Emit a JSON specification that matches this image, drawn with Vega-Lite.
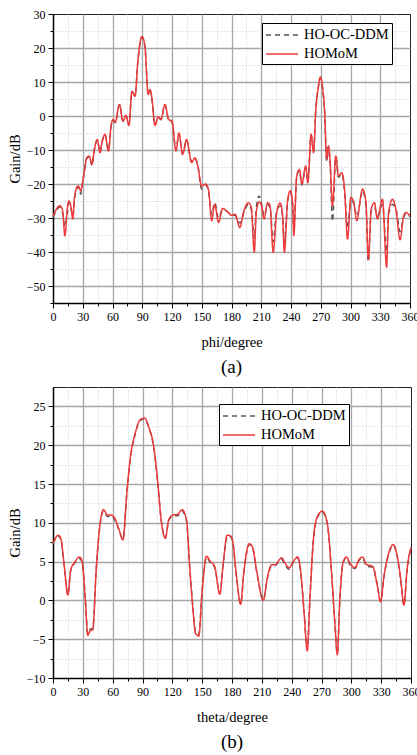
{
  "$schema": "https://vega.github.io/schema/vega-lite/v6.json",
  "padding": {"left": 6, "top": 7, "right": 5, "bottom": 5},
  "background": "white",
  "config": {
    "font": "Liberation Serif",
    "view": {"stroke": "#222222", "strokeWidth": 1},
    "axis": {
      "labelFont": "Liberation Serif",
      "labelFontSize": 12,
      "labelColor": "black",
      "titleFont": "Liberation Serif",
      "titleFontSize": 14.5,
      "titleFontWeight": "normal",
      "titleColor": "black",
      "domainColor": "black",
      "domainWidth": 1.5,
      "tickColor": "black",
      "tickWidth": 1,
      "labelPadding": 3
    },
    "legend": {"labelFont": "Liberation Serif", "titleFont": "Liberation Serif"},
    "title": {"font": "Liberation Serif", "fontSize": 19, "fontWeight": "normal", "color": "black"}
  },
  "datasets": {
    "phi": [
      {"deg": 0, "gain": -29.8, "method": "HO-OC-DDM"},
      {"deg": 7, "gain": -26.8, "method": "HO-OC-DDM"},
      {"deg": 9.7, "gain": -28.5, "method": "HO-OC-DDM"},
      {"deg": 12, "gain": -32.5, "method": "HO-OC-DDM"},
      {"deg": 14.5, "gain": -28.5, "method": "HO-OC-DDM"},
      {"deg": 16, "gain": -25.5, "method": "HO-OC-DDM"},
      {"deg": 18, "gain": -27, "method": "HO-OC-DDM"},
      {"deg": 20, "gain": -29.5, "method": "HO-OC-DDM"},
      {"deg": 21.5, "gain": -25, "method": "HO-OC-DDM"},
      {"deg": 24, "gain": -21.5, "method": "HO-OC-DDM"},
      {"deg": 25.5, "gain": -20.8, "method": "HO-OC-DDM"},
      {"deg": 28, "gain": -23, "method": "HO-OC-DDM"},
      {"deg": 29.5, "gain": -20.5, "method": "HO-OC-DDM"},
      {"deg": 31.6, "gain": -16.5, "method": "HO-OC-DDM"},
      {"deg": 34, "gain": -12.5, "method": "HO-OC-DDM"},
      {"deg": 36.6, "gain": -12, "method": "HO-OC-DDM"},
      {"deg": 39.3, "gain": -14.5, "method": "HO-OC-DDM"},
      {"deg": 41.7, "gain": -10, "method": "HO-OC-DDM"},
      {"deg": 44.7, "gain": -7, "method": "HO-OC-DDM"},
      {"deg": 47.4, "gain": -10.6, "method": "HO-OC-DDM"},
      {"deg": 49.7, "gain": -7.4, "method": "HO-OC-DDM"},
      {"deg": 52.4, "gain": -5.5, "method": "HO-OC-DDM"},
      {"deg": 56, "gain": -10, "method": "HO-OC-DDM"},
      {"deg": 58.5, "gain": -3.2, "method": "HO-OC-DDM"},
      {"deg": 60.8, "gain": -1.2, "method": "HO-OC-DDM"},
      {"deg": 62.8, "gain": -2, "method": "HO-OC-DDM"},
      {"deg": 67, "gain": 3.3, "method": "HO-OC-DDM"},
      {"deg": 70.6, "gain": -1.6, "method": "HO-OC-DDM"},
      {"deg": 73.6, "gain": 0.1, "method": "HO-OC-DDM"},
      {"deg": 76.6, "gain": -2.6, "method": "HO-OC-DDM"},
      {"deg": 79.6, "gain": 7.2, "method": "HO-OC-DDM"},
      {"deg": 82.7, "gain": 5.9, "method": "HO-OC-DDM"},
      {"deg": 85.7, "gain": 16.5, "method": "HO-OC-DDM"},
      {"deg": 89.7, "gain": 23.2, "method": "HO-OC-DDM"},
      {"deg": 92.7, "gain": 20.3, "method": "HO-OC-DDM"},
      {"deg": 96, "gain": 6.5, "method": "HO-OC-DDM"},
      {"deg": 97.8, "gain": 7.6, "method": "HO-OC-DDM"},
      {"deg": 99.5, "gain": 5.6, "method": "HO-OC-DDM"},
      {"deg": 102.8, "gain": -2.6, "method": "HO-OC-DDM"},
      {"deg": 106, "gain": -0.4, "method": "HO-OC-DDM"},
      {"deg": 108.8, "gain": -1.1, "method": "HO-OC-DDM"},
      {"deg": 112.9, "gain": 3.2, "method": "HO-OC-DDM"},
      {"deg": 116.6, "gain": -1.2, "method": "HO-OC-DDM"},
      {"deg": 120, "gain": -1.8, "method": "HO-OC-DDM"},
      {"deg": 124, "gain": -10, "method": "HO-OC-DDM"},
      {"deg": 127, "gain": -5.2, "method": "HO-OC-DDM"},
      {"deg": 130.7, "gain": -11, "method": "HO-OC-DDM"},
      {"deg": 134.7, "gain": -7.1, "method": "HO-OC-DDM"},
      {"deg": 139.8, "gain": -13.4, "method": "HO-OC-DDM"},
      {"deg": 143, "gain": -12.5, "method": "HO-OC-DDM"},
      {"deg": 146, "gain": -14.5, "method": "HO-OC-DDM"},
      {"deg": 149.9, "gain": -21.5, "method": "HO-OC-DDM"},
      {"deg": 154, "gain": -20.3, "method": "HO-OC-DDM"},
      {"deg": 157, "gain": -22.5, "method": "HO-OC-DDM"},
      {"deg": 160, "gain": -29, "method": "HO-OC-DDM"},
      {"deg": 163, "gain": -25.5, "method": "HO-OC-DDM"},
      {"deg": 167, "gain": -30, "method": "HO-OC-DDM"},
      {"deg": 171, "gain": -27.5, "method": "HO-OC-DDM"},
      {"deg": 175, "gain": -28, "method": "HO-OC-DDM"},
      {"deg": 180, "gain": -29, "method": "HO-OC-DDM"},
      {"deg": 183.5, "gain": -29.2, "method": "HO-OC-DDM"},
      {"deg": 188.5, "gain": -31.5, "method": "HO-OC-DDM"},
      {"deg": 192, "gain": -28.8, "method": "HO-OC-DDM"},
      {"deg": 197, "gain": -26, "method": "HO-OC-DDM"},
      {"deg": 200, "gain": -27.5, "method": "HO-OC-DDM"},
      {"deg": 203, "gain": -36, "method": "HO-OC-DDM"},
      {"deg": 205, "gain": -27, "method": "HO-OC-DDM"},
      {"deg": 207.7, "gain": -23.5, "method": "HO-OC-DDM"},
      {"deg": 210.4, "gain": -26, "method": "HO-OC-DDM"},
      {"deg": 212.8, "gain": -29.5, "method": "HO-OC-DDM"},
      {"deg": 216.5, "gain": -26, "method": "HO-OC-DDM"},
      {"deg": 218.9, "gain": -27, "method": "HO-OC-DDM"},
      {"deg": 222, "gain": -37, "method": "HO-OC-DDM"},
      {"deg": 225.6, "gain": -28, "method": "HO-OC-DDM"},
      {"deg": 229, "gain": -26.5, "method": "HO-OC-DDM"},
      {"deg": 231.3, "gain": -29, "method": "HO-OC-DDM"},
      {"deg": 233.3, "gain": -37, "method": "HO-OC-DDM"},
      {"deg": 236.7, "gain": -25, "method": "HO-OC-DDM"},
      {"deg": 239.4, "gain": -22.5, "method": "HO-OC-DDM"},
      {"deg": 241.8, "gain": -26.8, "method": "HO-OC-DDM"},
      {"deg": 242.8, "gain": -33, "method": "HO-OC-DDM"},
      {"deg": 245.8, "gain": -18, "method": "HO-OC-DDM"},
      {"deg": 248.5, "gain": -16, "method": "HO-OC-DDM"},
      {"deg": 250.9, "gain": -20.3, "method": "HO-OC-DDM"},
      {"deg": 254.9, "gain": -15, "method": "HO-OC-DDM"},
      {"deg": 257, "gain": -19.3, "method": "HO-OC-DDM"},
      {"deg": 260.3, "gain": -5.6, "method": "HO-OC-DDM"},
      {"deg": 262.7, "gain": -10.5, "method": "HO-OC-DDM"},
      {"deg": 265, "gain": 1.7, "method": "HO-OC-DDM"},
      {"deg": 267.5, "gain": 8.3, "method": "HO-OC-DDM"},
      {"deg": 269.7, "gain": 11.3, "method": "HO-OC-DDM"},
      {"deg": 271.8, "gain": 8.3, "method": "HO-OC-DDM"},
      {"deg": 273.8, "gain": 1.7, "method": "HO-OC-DDM"},
      {"deg": 276, "gain": -13.5, "method": "HO-OC-DDM"},
      {"deg": 277.8, "gain": -9, "method": "HO-OC-DDM"},
      {"deg": 279.5, "gain": -14.5, "method": "HO-OC-DDM"},
      {"deg": 281.8, "gain": -31, "method": "HO-OC-DDM"},
      {"deg": 285.2, "gain": -12, "method": "HO-OC-DDM"},
      {"deg": 287.9, "gain": -18, "method": "HO-OC-DDM"},
      {"deg": 291.2, "gain": -17, "method": "HO-OC-DDM"},
      {"deg": 294, "gain": -22, "method": "HO-OC-DDM"},
      {"deg": 297, "gain": -33, "method": "HO-OC-DDM"},
      {"deg": 300.3, "gain": -25, "method": "HO-OC-DDM"},
      {"deg": 303, "gain": -25.5, "method": "HO-OC-DDM"},
      {"deg": 306.4, "gain": -29.5, "method": "HO-OC-DDM"},
      {"deg": 310.4, "gain": -24, "method": "HO-OC-DDM"},
      {"deg": 312, "gain": -22, "method": "HO-OC-DDM"},
      {"deg": 315.5, "gain": -26, "method": "HO-OC-DDM"},
      {"deg": 318, "gain": -43, "method": "HO-OC-DDM"},
      {"deg": 320.9, "gain": -28, "method": "HO-OC-DDM"},
      {"deg": 324.2, "gain": -27, "method": "HO-OC-DDM"},
      {"deg": 327, "gain": -29.5, "method": "HO-OC-DDM"},
      {"deg": 332.3, "gain": -26, "method": "HO-OC-DDM"},
      {"deg": 336.4, "gain": -40, "method": "HO-OC-DDM"},
      {"deg": 338.4, "gain": -29, "method": "HO-OC-DDM"},
      {"deg": 342.4, "gain": -26, "method": "HO-OC-DDM"},
      {"deg": 346, "gain": -27.5, "method": "HO-OC-DDM"},
      {"deg": 350, "gain": -34, "method": "HO-OC-DDM"},
      {"deg": 353.6, "gain": -29.8, "method": "HO-OC-DDM"},
      {"deg": 356, "gain": -28.6, "method": "HO-OC-DDM"},
      {"deg": 360, "gain": -29.6, "method": "HO-OC-DDM"},

      {"deg": 0, "gain": -29.5, "method": "HOMoM"},
      {"deg": 7, "gain": -26.4, "method": "HOMoM"},
      {"deg": 9.7, "gain": -27.9, "method": "HOMoM"},
      {"deg": 12, "gain": -35.2, "method": "HOMoM"},
      {"deg": 14.5, "gain": -27, "method": "HOMoM"},
      {"deg": 16, "gain": -25, "method": "HOMoM"},
      {"deg": 18, "gain": -26.5, "method": "HOMoM"},
      {"deg": 20, "gain": -30.3, "method": "HOMoM"},
      {"deg": 21.5, "gain": -24.5, "method": "HOMoM"},
      {"deg": 24, "gain": -21, "method": "HOMoM"},
      {"deg": 25.5, "gain": -20.6, "method": "HOMoM"},
      {"deg": 28, "gain": -22, "method": "HOMoM"},
      {"deg": 29.5, "gain": -20, "method": "HOMoM"},
      {"deg": 31.6, "gain": -16.2, "method": "HOMoM"},
      {"deg": 34, "gain": -12.3, "method": "HOMoM"},
      {"deg": 36.6, "gain": -11.8, "method": "HOMoM"},
      {"deg": 39.3, "gain": -14.2, "method": "HOMoM"},
      {"deg": 41.7, "gain": -9.8, "method": "HOMoM"},
      {"deg": 44.7, "gain": -6.9, "method": "HOMoM"},
      {"deg": 47.4, "gain": -10.8, "method": "HOMoM"},
      {"deg": 49.7, "gain": -7.3, "method": "HOMoM"},
      {"deg": 52.4, "gain": -5.4, "method": "HOMoM"},
      {"deg": 56, "gain": -10.3, "method": "HOMoM"},
      {"deg": 58.5, "gain": -3, "method": "HOMoM"},
      {"deg": 60.8, "gain": -1, "method": "HOMoM"},
      {"deg": 62.8, "gain": -1.8, "method": "HOMoM"},
      {"deg": 67, "gain": 3.4, "method": "HOMoM"},
      {"deg": 70.6, "gain": -1.5, "method": "HOMoM"},
      {"deg": 73.6, "gain": 0.2, "method": "HOMoM"},
      {"deg": 76.6, "gain": -2.8, "method": "HOMoM"},
      {"deg": 79.6, "gain": 7.3, "method": "HOMoM"},
      {"deg": 82.7, "gain": 5.8, "method": "HOMoM"},
      {"deg": 85.7, "gain": 16.6, "method": "HOMoM"},
      {"deg": 89.7, "gain": 23.4, "method": "HOMoM"},
      {"deg": 92.7, "gain": 20.5, "method": "HOMoM"},
      {"deg": 96, "gain": 6.3, "method": "HOMoM"},
      {"deg": 97.8, "gain": 7.8, "method": "HOMoM"},
      {"deg": 99.5, "gain": 5.8, "method": "HOMoM"},
      {"deg": 102.8, "gain": -2.8, "method": "HOMoM"},
      {"deg": 106, "gain": -0.2, "method": "HOMoM"},
      {"deg": 108.8, "gain": -1, "method": "HOMoM"},
      {"deg": 112.9, "gain": 3.4, "method": "HOMoM"},
      {"deg": 116.6, "gain": -1, "method": "HOMoM"},
      {"deg": 120, "gain": -1.5, "method": "HOMoM"},
      {"deg": 124, "gain": -10.3, "method": "HOMoM"},
      {"deg": 127, "gain": -5, "method": "HOMoM"},
      {"deg": 130.7, "gain": -11.3, "method": "HOMoM"},
      {"deg": 134.7, "gain": -6.9, "method": "HOMoM"},
      {"deg": 139.8, "gain": -13.7, "method": "HOMoM"},
      {"deg": 143, "gain": -12.3, "method": "HOMoM"},
      {"deg": 146, "gain": -14.7, "method": "HOMoM"},
      {"deg": 149.9, "gain": -20.6, "method": "HOMoM"},
      {"deg": 154, "gain": -20, "method": "HOMoM"},
      {"deg": 157, "gain": -22, "method": "HOMoM"},
      {"deg": 160, "gain": -30.8, "method": "HOMoM"},
      {"deg": 163, "gain": -26, "method": "HOMoM"},
      {"deg": 167, "gain": -31.3, "method": "HOMoM"},
      {"deg": 171, "gain": -27.2, "method": "HOMoM"},
      {"deg": 175, "gain": -27.9, "method": "HOMoM"},
      {"deg": 180, "gain": -29.2, "method": "HOMoM"},
      {"deg": 183.5, "gain": -28.9, "method": "HOMoM"},
      {"deg": 188.5, "gain": -32.8, "method": "HOMoM"},
      {"deg": 192, "gain": -28.4, "method": "HOMoM"},
      {"deg": 197, "gain": -25.5, "method": "HOMoM"},
      {"deg": 200, "gain": -27, "method": "HOMoM"},
      {"deg": 203, "gain": -40.1, "method": "HOMoM"},
      {"deg": 205, "gain": -28.4, "method": "HOMoM"},
      {"deg": 207.7, "gain": -25.3, "method": "HOMoM"},
      {"deg": 210.4, "gain": -26.4, "method": "HOMoM"},
      {"deg": 212.8, "gain": -30.3, "method": "HOMoM"},
      {"deg": 216.5, "gain": -25.5, "method": "HOMoM"},
      {"deg": 218.9, "gain": -26.4, "method": "HOMoM"},
      {"deg": 222, "gain": -40.1, "method": "HOMoM"},
      {"deg": 225.6, "gain": -28.4, "method": "HOMoM"},
      {"deg": 229, "gain": -25.6, "method": "HOMoM"},
      {"deg": 231.3, "gain": -28.4, "method": "HOMoM"},
      {"deg": 233.3, "gain": -40.1, "method": "HOMoM"},
      {"deg": 236.7, "gain": -24.5, "method": "HOMoM"},
      {"deg": 239.4, "gain": -22, "method": "HOMoM"},
      {"deg": 241.8, "gain": -26.4, "method": "HOMoM"},
      {"deg": 242.8, "gain": -35.2, "method": "HOMoM"},
      {"deg": 245.8, "gain": -17.6, "method": "HOMoM"},
      {"deg": 248.5, "gain": -15.7, "method": "HOMoM"},
      {"deg": 250.9, "gain": -20, "method": "HOMoM"},
      {"deg": 254.9, "gain": -14.7, "method": "HOMoM"},
      {"deg": 257, "gain": -19.6, "method": "HOMoM"},
      {"deg": 260.3, "gain": -5.4, "method": "HOMoM"},
      {"deg": 262.7, "gain": -10.8, "method": "HOMoM"},
      {"deg": 265, "gain": 1.9, "method": "HOMoM"},
      {"deg": 267.5, "gain": 8.5, "method": "HOMoM"},
      {"deg": 269.7, "gain": 11.5, "method": "HOMoM"},
      {"deg": 271.8, "gain": 8.5, "method": "HOMoM"},
      {"deg": 273.8, "gain": 1.9, "method": "HOMoM"},
      {"deg": 276, "gain": -12.7, "method": "HOMoM"},
      {"deg": 277.8, "gain": -8.8, "method": "HOMoM"},
      {"deg": 279.5, "gain": -13.7, "method": "HOMoM"},
      {"deg": 281.8, "gain": -26.4, "method": "HOMoM"},
      {"deg": 285.2, "gain": -11.8, "method": "HOMoM"},
      {"deg": 287.9, "gain": -17.6, "method": "HOMoM"},
      {"deg": 291.2, "gain": -16.7, "method": "HOMoM"},
      {"deg": 294, "gain": -21.5, "method": "HOMoM"},
      {"deg": 297, "gain": -36.2, "method": "HOMoM"},
      {"deg": 300.3, "gain": -24, "method": "HOMoM"},
      {"deg": 303, "gain": -25, "method": "HOMoM"},
      {"deg": 306.4, "gain": -30.8, "method": "HOMoM"},
      {"deg": 310.4, "gain": -23.5, "method": "HOMoM"},
      {"deg": 312, "gain": -21.5, "method": "HOMoM"},
      {"deg": 315.5, "gain": -25, "method": "HOMoM"},
      {"deg": 318, "gain": -42.1, "method": "HOMoM"},
      {"deg": 320.9, "gain": -27.4, "method": "HOMoM"},
      {"deg": 324.2, "gain": -25.5, "method": "HOMoM"},
      {"deg": 327, "gain": -30.3, "method": "HOMoM"},
      {"deg": 332.3, "gain": -24.5, "method": "HOMoM"},
      {"deg": 336.4, "gain": -44.5, "method": "HOMoM"},
      {"deg": 338.4, "gain": -28.4, "method": "HOMoM"},
      {"deg": 342.4, "gain": -24.5, "method": "HOMoM"},
      {"deg": 346, "gain": -27.9, "method": "HOMoM"},
      {"deg": 350, "gain": -36.4, "method": "HOMoM"},
      {"deg": 353.6, "gain": -29.4, "method": "HOMoM"},
      {"deg": 356, "gain": -28.4, "method": "HOMoM"},
      {"deg": 360, "gain": -29.4, "method": "HOMoM"}
    ],
    "theta": [
      {"deg": 0, "gain": 7.3, "method": "HO-OC-DDM"},
      {"deg": 5.5, "gain": 8.3, "method": "HO-OC-DDM"},
      {"deg": 8.2, "gain": 7.7, "method": "HO-OC-DDM"},
      {"deg": 11.2, "gain": 4.5, "method": "HO-OC-DDM"},
      {"deg": 14.9, "gain": 0.8, "method": "HO-OC-DDM"},
      {"deg": 17.9, "gain": 3.9, "method": "HO-OC-DDM"},
      {"deg": 21.3, "gain": 4.7, "method": "HO-OC-DDM"},
      {"deg": 26.6, "gain": 5.4, "method": "HO-OC-DDM"},
      {"deg": 29.3, "gain": 4.9, "method": "HO-OC-DDM"},
      {"deg": 32.4, "gain": 0.4, "method": "HO-OC-DDM"},
      {"deg": 35, "gain": -4.3, "method": "HO-OC-DDM"},
      {"deg": 37.4, "gain": -3.7, "method": "HO-OC-DDM"},
      {"deg": 40, "gain": -3.6, "method": "HO-OC-DDM"},
      {"deg": 43.4, "gain": 3.9, "method": "HO-OC-DDM"},
      {"deg": 46.8, "gain": 9.2, "method": "HO-OC-DDM"},
      {"deg": 50.8, "gain": 11.5, "method": "HO-OC-DDM"},
      {"deg": 54.9, "gain": 10.8, "method": "HO-OC-DDM"},
      {"deg": 58, "gain": 10.9, "method": "HO-OC-DDM"},
      {"deg": 61, "gain": 10.6, "method": "HO-OC-DDM"},
      {"deg": 66, "gain": 9.2, "method": "HO-OC-DDM"},
      {"deg": 70.3, "gain": 7.9, "method": "HO-OC-DDM"},
      {"deg": 74.4, "gain": 14, "method": "HO-OC-DDM"},
      {"deg": 77.7, "gain": 18.2, "method": "HO-OC-DDM"},
      {"deg": 82.8, "gain": 21.5, "method": "HO-OC-DDM"},
      {"deg": 87.8, "gain": 23.2, "method": "HO-OC-DDM"},
      {"deg": 92.2, "gain": 23.4, "method": "HO-OC-DDM"},
      {"deg": 96.2, "gain": 22.3, "method": "HO-OC-DDM"},
      {"deg": 101.3, "gain": 19.7, "method": "HO-OC-DDM"},
      {"deg": 105.3, "gain": 15.2, "method": "HO-OC-DDM"},
      {"deg": 108.7, "gain": 10.5, "method": "HO-OC-DDM"},
      {"deg": 113, "gain": 8.1, "method": "HO-OC-DDM"},
      {"deg": 116.4, "gain": 10.3, "method": "HO-OC-DDM"},
      {"deg": 120.7, "gain": 10.9, "method": "HO-OC-DDM"},
      {"deg": 125.5, "gain": 10.9, "method": "HO-OC-DDM"},
      {"deg": 129.8, "gain": 11.5, "method": "HO-OC-DDM"},
      {"deg": 134.2, "gain": 10.3, "method": "HO-OC-DDM"},
      {"deg": 137.5, "gain": 4.3, "method": "HO-OC-DDM"},
      {"deg": 140.9, "gain": -1.2, "method": "HO-OC-DDM"},
      {"deg": 143.2, "gain": -4, "method": "HO-OC-DDM"},
      {"deg": 146.6, "gain": -4.4, "method": "HO-OC-DDM"},
      {"deg": 150, "gain": 1.3, "method": "HO-OC-DDM"},
      {"deg": 154.4, "gain": 5.6, "method": "HO-OC-DDM"},
      {"deg": 158.4, "gain": 4.8, "method": "HO-OC-DDM"},
      {"deg": 162.5, "gain": 4.3, "method": "HO-OC-DDM"},
      {"deg": 167.8, "gain": 0.9, "method": "HO-OC-DDM"},
      {"deg": 171.2, "gain": 4.7, "method": "HO-OC-DDM"},
      {"deg": 175.2, "gain": 8.3, "method": "HO-OC-DDM"},
      {"deg": 178.6, "gain": 8.2, "method": "HO-OC-DDM"},
      {"deg": 180.7, "gain": 7.5, "method": "HO-OC-DDM"},
      {"deg": 184.7, "gain": 2.8, "method": "HO-OC-DDM"},
      {"deg": 188.7, "gain": -0.4, "method": "HO-OC-DDM"},
      {"deg": 192, "gain": 3.7, "method": "HO-OC-DDM"},
      {"deg": 197.4, "gain": 7.2, "method": "HO-OC-DDM"},
      {"deg": 200.8, "gain": 6.7, "method": "HO-OC-DDM"},
      {"deg": 204.8, "gain": 3.7, "method": "HO-OC-DDM"},
      {"deg": 211.5, "gain": 0.1, "method": "HO-OC-DDM"},
      {"deg": 215.5, "gain": 2.8, "method": "HO-OC-DDM"},
      {"deg": 219.9, "gain": 4.5, "method": "HO-OC-DDM"},
      {"deg": 223.2, "gain": 4.5, "method": "HO-OC-DDM"},
      {"deg": 229.9, "gain": 5.3, "method": "HO-OC-DDM"},
      {"deg": 233.3, "gain": 4.6, "method": "HO-OC-DDM"},
      {"deg": 237.6, "gain": 4, "method": "HO-OC-DDM"},
      {"deg": 241.6, "gain": 4.9, "method": "HO-OC-DDM"},
      {"deg": 246, "gain": 5.5, "method": "HO-OC-DDM"},
      {"deg": 249, "gain": 3.7, "method": "HO-OC-DDM"},
      {"deg": 252.4, "gain": -1.3, "method": "HO-OC-DDM"},
      {"deg": 255.7, "gain": -6.3, "method": "HO-OC-DDM"},
      {"deg": 258.4, "gain": 0.4, "method": "HO-OC-DDM"},
      {"deg": 261.7, "gain": 7.5, "method": "HO-OC-DDM"},
      {"deg": 265.8, "gain": 10.7, "method": "HO-OC-DDM"},
      {"deg": 271, "gain": 11.4, "method": "HO-OC-DDM"},
      {"deg": 276, "gain": 9.7, "method": "HO-OC-DDM"},
      {"deg": 280, "gain": 3.7, "method": "HO-OC-DDM"},
      {"deg": 283.5, "gain": -3, "method": "HO-OC-DDM"},
      {"deg": 285.9, "gain": -6.8, "method": "HO-OC-DDM"},
      {"deg": 288.5, "gain": 0.4, "method": "HO-OC-DDM"},
      {"deg": 291.9, "gain": 4.9, "method": "HO-OC-DDM"},
      {"deg": 295.2, "gain": 5.5, "method": "HO-OC-DDM"},
      {"deg": 298.6, "gain": 4.6, "method": "HO-OC-DDM"},
      {"deg": 303.6, "gain": 4.1, "method": "HO-OC-DDM"},
      {"deg": 308, "gain": 5.2, "method": "HO-OC-DDM"},
      {"deg": 311.3, "gain": 5.5, "method": "HO-OC-DDM"},
      {"deg": 315.3, "gain": 4.4, "method": "HO-OC-DDM"},
      {"deg": 321.4, "gain": 4.3, "method": "HO-OC-DDM"},
      {"deg": 326, "gain": 2.1, "method": "HO-OC-DDM"},
      {"deg": 329.4, "gain": -0.1, "method": "HO-OC-DDM"},
      {"deg": 332.8, "gain": 3, "method": "HO-OC-DDM"},
      {"deg": 338.1, "gain": 6.2, "method": "HO-OC-DDM"},
      {"deg": 342.1, "gain": 7.1, "method": "HO-OC-DDM"},
      {"deg": 346.2, "gain": 5.6, "method": "HO-OC-DDM"},
      {"deg": 349.5, "gain": 2.8, "method": "HO-OC-DDM"},
      {"deg": 352.9, "gain": -0.5, "method": "HO-OC-DDM"},
      {"deg": 356.2, "gain": 4.1, "method": "HO-OC-DDM"},
      {"deg": 360, "gain": 6.7, "method": "HO-OC-DDM"},

      {"deg": 0, "gain": 7.4, "method": "HOMoM"},
      {"deg": 5.5, "gain": 8.4, "method": "HOMoM"},
      {"deg": 8.2, "gain": 7.8, "method": "HOMoM"},
      {"deg": 11.2, "gain": 4.6, "method": "HOMoM"},
      {"deg": 14.9, "gain": 0.7, "method": "HOMoM"},
      {"deg": 17.9, "gain": 4, "method": "HOMoM"},
      {"deg": 21.3, "gain": 4.8, "method": "HOMoM"},
      {"deg": 26.6, "gain": 5.6, "method": "HOMoM"},
      {"deg": 29.3, "gain": 5, "method": "HOMoM"},
      {"deg": 32.4, "gain": 0.3, "method": "HOMoM"},
      {"deg": 35, "gain": -4.5, "method": "HOMoM"},
      {"deg": 37.4, "gain": -3.9, "method": "HOMoM"},
      {"deg": 40, "gain": -3.8, "method": "HOMoM"},
      {"deg": 43.4, "gain": 3.8, "method": "HOMoM"},
      {"deg": 46.8, "gain": 9.3, "method": "HOMoM"},
      {"deg": 50.8, "gain": 11.7, "method": "HOMoM"},
      {"deg": 54.9, "gain": 11, "method": "HOMoM"},
      {"deg": 58, "gain": 11, "method": "HOMoM"},
      {"deg": 61, "gain": 10.8, "method": "HOMoM"},
      {"deg": 66, "gain": 9.3, "method": "HOMoM"},
      {"deg": 70.3, "gain": 7.8, "method": "HOMoM"},
      {"deg": 74.4, "gain": 14.1, "method": "HOMoM"},
      {"deg": 77.7, "gain": 18.3, "method": "HOMoM"},
      {"deg": 82.8, "gain": 21.6, "method": "HOMoM"},
      {"deg": 87.8, "gain": 23.3, "method": "HOMoM"},
      {"deg": 92.2, "gain": 23.5, "method": "HOMoM"},
      {"deg": 96.2, "gain": 22.4, "method": "HOMoM"},
      {"deg": 101.3, "gain": 19.8, "method": "HOMoM"},
      {"deg": 105.3, "gain": 15.3, "method": "HOMoM"},
      {"deg": 108.7, "gain": 10.4, "method": "HOMoM"},
      {"deg": 113, "gain": 8, "method": "HOMoM"},
      {"deg": 116.4, "gain": 10.4, "method": "HOMoM"},
      {"deg": 120.7, "gain": 11, "method": "HOMoM"},
      {"deg": 125.5, "gain": 11.1, "method": "HOMoM"},
      {"deg": 129.8, "gain": 11.7, "method": "HOMoM"},
      {"deg": 134.2, "gain": 10.4, "method": "HOMoM"},
      {"deg": 137.5, "gain": 4.2, "method": "HOMoM"},
      {"deg": 140.9, "gain": -1.4, "method": "HOMoM"},
      {"deg": 143.2, "gain": -4.2, "method": "HOMoM"},
      {"deg": 146.6, "gain": -4.6, "method": "HOMoM"},
      {"deg": 150, "gain": 1.2, "method": "HOMoM"},
      {"deg": 154.4, "gain": 5.7, "method": "HOMoM"},
      {"deg": 158.4, "gain": 5, "method": "HOMoM"},
      {"deg": 162.5, "gain": 4.4, "method": "HOMoM"},
      {"deg": 167.8, "gain": 0.8, "method": "HOMoM"},
      {"deg": 171.2, "gain": 4.8, "method": "HOMoM"},
      {"deg": 175.2, "gain": 8.4, "method": "HOMoM"},
      {"deg": 178.6, "gain": 8.3, "method": "HOMoM"},
      {"deg": 180.7, "gain": 7.6, "method": "HOMoM"},
      {"deg": 184.7, "gain": 2.9, "method": "HOMoM"},
      {"deg": 188.7, "gain": -0.5, "method": "HOMoM"},
      {"deg": 192, "gain": 3.8, "method": "HOMoM"},
      {"deg": 197.4, "gain": 7.3, "method": "HOMoM"},
      {"deg": 200.8, "gain": 6.8, "method": "HOMoM"},
      {"deg": 204.8, "gain": 3.8, "method": "HOMoM"},
      {"deg": 211.5, "gain": 0, "method": "HOMoM"},
      {"deg": 215.5, "gain": 2.9, "method": "HOMoM"},
      {"deg": 219.9, "gain": 4.6, "method": "HOMoM"},
      {"deg": 223.2, "gain": 4.6, "method": "HOMoM"},
      {"deg": 229.9, "gain": 5.5, "method": "HOMoM"},
      {"deg": 233.3, "gain": 4.8, "method": "HOMoM"},
      {"deg": 237.6, "gain": 4.2, "method": "HOMoM"},
      {"deg": 241.6, "gain": 5, "method": "HOMoM"},
      {"deg": 246, "gain": 5.6, "method": "HOMoM"},
      {"deg": 249, "gain": 3.8, "method": "HOMoM"},
      {"deg": 252.4, "gain": -1.4, "method": "HOMoM"},
      {"deg": 255.7, "gain": -6.5, "method": "HOMoM"},
      {"deg": 258.4, "gain": 0.3, "method": "HOMoM"},
      {"deg": 261.7, "gain": 7.6, "method": "HOMoM"},
      {"deg": 265.8, "gain": 10.8, "method": "HOMoM"},
      {"deg": 271, "gain": 11.5, "method": "HOMoM"},
      {"deg": 276, "gain": 9.8, "method": "HOMoM"},
      {"deg": 280, "gain": 3.8, "method": "HOMoM"},
      {"deg": 283.5, "gain": -3.1, "method": "HOMoM"},
      {"deg": 285.9, "gain": -7, "method": "HOMoM"},
      {"deg": 288.5, "gain": 0.3, "method": "HOMoM"},
      {"deg": 291.9, "gain": 5, "method": "HOMoM"},
      {"deg": 295.2, "gain": 5.6, "method": "HOMoM"},
      {"deg": 298.6, "gain": 4.8, "method": "HOMoM"},
      {"deg": 303.6, "gain": 4.2, "method": "HOMoM"},
      {"deg": 308, "gain": 5.3, "method": "HOMoM"},
      {"deg": 311.3, "gain": 5.6, "method": "HOMoM"},
      {"deg": 315.3, "gain": 4.6, "method": "HOMoM"},
      {"deg": 321.4, "gain": 4.4, "method": "HOMoM"},
      {"deg": 326, "gain": 2, "method": "HOMoM"},
      {"deg": 329.4, "gain": -0.2, "method": "HOMoM"},
      {"deg": 332.8, "gain": 3.1, "method": "HOMoM"},
      {"deg": 338.1, "gain": 6.3, "method": "HOMoM"},
      {"deg": 342.1, "gain": 7.2, "method": "HOMoM"},
      {"deg": 346.2, "gain": 5.7, "method": "HOMoM"},
      {"deg": 349.5, "gain": 2.9, "method": "HOMoM"},
      {"deg": 352.9, "gain": -0.6, "method": "HOMoM"},
      {"deg": 356.2, "gain": 4.2, "method": "HOMoM"},
      {"deg": 360, "gain": 6.8, "method": "HOMoM"}
    ]
  },
  "vconcat": [
    {
      "width": 357,
      "height": 289,
      "data": {"name": "phi"},
      "title": {"text": "(a)", "orient": "bottom", "anchor": "middle", "offset": 9},
      "mark": {"type": "line", "interpolate": "monotone", "strokeWidth": 1.5},
      "encoding": {
        "x": {
          "field": "deg", "type": "quantitative",
          "scale": {"domain": [0, 360], "nice": false},
          "axis": {
            "title": "phi/degree",
            "titlePadding": 13,
            "values": [0, 15, 30, 45, 60, 75, 90, 105, 120, 135, 150, 165, 180, 195, 210, 225, 240, 255, 270, 285, 300, 315, 330, 345, 360],
            "labelExpr": "datum.value % 30 === 0 ? datum.label : ''",
            "labelFont": "Liberation Serif",
            "labelFlush": false,
            "labelOverlap": false,
            "tickSize": {"condition": {"test": "datum.value % 30 !== 0", "value": 3}, "value": 5},
            "gridColor": {"condition": {"test": "datum.value % 30 !== 0", "value": "#cfcfcf"}, "value": "#a6a6a6"},
            "gridDash": {"condition": {"test": "datum.value % 30 !== 0", "value": [1, 2]}, "value": []},
            "gridWidth": {"condition": {"test": "datum.value % 30 !== 0", "value": 1}, "value": 1.3},
            "gridOpacity": {"condition": {"test": "datum.value === 0 || datum.value === 360", "value": 0}, "value": 1}
          }
        },
        "y": {
          "field": "gain", "type": "quantitative",
          "scale": {"domain": [-55, 30], "nice": false},
          "axis": {
            "title": "Gain/dB",
            "titlePadding": 4,
            "values": [-55, -50, -45, -40, -35, -30, -25, -20, -15, -10, -5, 0, 5, 10, 15, 20, 25, 30],
            "labelExpr": "datum.value % 10 === 0 ? datum.label : ''",
            "labelFont": "Liberation Serif",
            "labelFlush": false,
            "labelOverlap": false,
            "tickSize": {"condition": {"test": "datum.value % 10 !== 0", "value": 3}, "value": 5},
            "gridColor": {"condition": {"test": "datum.value % 10 !== 0", "value": "#cfcfcf"}, "value": "#a6a6a6"},
            "gridDash": {"condition": {"test": "datum.value % 10 !== 0", "value": [1, 2]}, "value": []},
            "gridWidth": {"condition": {"test": "datum.value % 10 !== 0", "value": 1}, "value": 1.3},
            "gridOpacity": {"condition": {"test": "datum.value === -55 || datum.value === 30", "value": 0}, "value": 1}
          }
        },
        "color": {
          "field": "method", "type": "nominal",
          "scale": {"domain": ["HO-OC-DDM", "HOMoM"], "range": ["#555555", "#ee3a3a"]},
          "legend": {
            "orient": "none", "legendX": 209, "legendY": 9, "title": null,
            "strokeColor": "black", "fillColor": "white", "padding": 3,
            "labelFont": "Liberation Serif", "labelFontSize": 14.5, "labelColor": "black", "labelLimit": 200,
            "symbolType": "M-1,0H3", "symbolSize": 256, "symbolStrokeWidth": 1.5, "symbolOffset": 0,
            "rowPadding": 3, "labelOffset": 21
          }
        },
        "strokeDash": {
          "field": "method", "type": "nominal",
          "scale": {"domain": ["HO-OC-DDM", "HOMoM"], "range": [[5, 4], [1, 0]]},
          "legend": {
            "orient": "none", "legendX": 209, "legendY": 9, "title": null,
            "strokeColor": "black", "fillColor": "white", "padding": 3,
            "labelFont": "Liberation Serif", "labelFontSize": 14.5, "labelColor": "black", "labelLimit": 200,
            "symbolType": "M-1,0H3", "symbolSize": 256, "symbolStrokeWidth": 1.5, "symbolOffset": 0,
            "rowPadding": 3, "labelOffset": 21
          }
        }
      }
    },
    {
      "width": 358,
      "height": 291,
      "data": {"name": "theta"},
      "title": {"text": "(b)", "orient": "bottom", "anchor": "middle", "offset": 9},
      "mark": {"type": "line", "interpolate": "monotone", "strokeWidth": 1.5},
      "encoding": {
        "x": {
          "field": "deg", "type": "quantitative",
          "scale": {"domain": [0, 360], "nice": false},
          "axis": {
            "title": "theta/degree",
            "titlePadding": 13,
            "values": [0, 15, 30, 45, 60, 75, 90, 105, 120, 135, 150, 165, 180, 195, 210, 225, 240, 255, 270, 285, 300, 315, 330, 345, 360],
            "labelExpr": "datum.value % 30 === 0 ? datum.label : ''",
            "labelFont": "Liberation Serif",
            "labelFlush": false,
            "labelOverlap": false,
            "tickSize": {"condition": {"test": "datum.value % 30 !== 0", "value": 3}, "value": 5},
            "gridColor": {"condition": {"test": "datum.value % 30 !== 0", "value": "#cfcfcf"}, "value": "#a6a6a6"},
            "gridDash": {"condition": {"test": "datum.value % 30 !== 0", "value": [1, 2]}, "value": []},
            "gridWidth": {"condition": {"test": "datum.value % 30 !== 0", "value": 1}, "value": 1.3},
            "gridOpacity": {"condition": {"test": "datum.value === 0 || datum.value === 360", "value": 0}, "value": 1}
          }
        },
        "y": {
          "field": "gain", "type": "quantitative",
          "scale": {"domain": [-10, 27.5], "nice": false},
          "axis": {
            "title": "Gain/dB",
            "titlePadding": 4,
            "values": [-10, -7.5, -5, -2.5, 0, 2.5, 5, 7.5, 10, 12.5, 15, 17.5, 20, 22.5, 25],
            "labelExpr": "datum.value % 5 === 0 ? datum.label : ''",
            "labelFont": "Liberation Serif",
            "labelFlush": false,
            "labelOverlap": false,
            "tickSize": {"condition": {"test": "datum.value % 5 !== 0", "value": 3}, "value": 5},
            "gridColor": {"condition": {"test": "datum.value % 5 !== 0", "value": "#cfcfcf"}, "value": "#a6a6a6"},
            "gridDash": {"condition": {"test": "datum.value % 5 !== 0", "value": [1, 2]}, "value": []},
            "gridWidth": {"condition": {"test": "datum.value % 5 !== 0", "value": 1}, "value": 1.3},
            "gridOpacity": {"condition": {"test": "datum.value === -10", "value": 0}, "value": 1}
          }
        },
        "color": {
          "field": "method", "type": "nominal",
          "scale": {"domain": ["HO-OC-DDM", "HOMoM"], "range": ["#555555", "#ee3a3a"]},
          "legend": {
            "orient": "none", "legendX": 166, "legendY": 17, "title": null,
            "strokeColor": "black", "fillColor": "white", "padding": 3,
            "labelFont": "Liberation Serif", "labelFontSize": 14.5, "labelColor": "black", "labelLimit": 200,
            "symbolType": "M-1,0H3", "symbolSize": 256, "symbolStrokeWidth": 1.5, "symbolOffset": 0,
            "rowPadding": 3, "labelOffset": 21
          }
        },
        "strokeDash": {
          "field": "method", "type": "nominal",
          "scale": {"domain": ["HO-OC-DDM", "HOMoM"], "range": [[5, 4], [1, 0]]},
          "legend": {
            "orient": "none", "legendX": 166, "legendY": 17, "title": null,
            "strokeColor": "black", "fillColor": "white", "padding": 3,
            "labelFont": "Liberation Serif", "labelFontSize": 14.5, "labelColor": "black", "labelLimit": 200,
            "symbolType": "M-1,0H3", "symbolSize": 256, "symbolStrokeWidth": 1.5, "symbolOffset": 0,
            "rowPadding": 3, "labelOffset": 21
          }
        }
      }
    }
  ],
  "spacing": 84,
  "bounds": "flush",
  "resolve": {"legend": {"color": "independent", "strokeDash": "independent"}}
}
